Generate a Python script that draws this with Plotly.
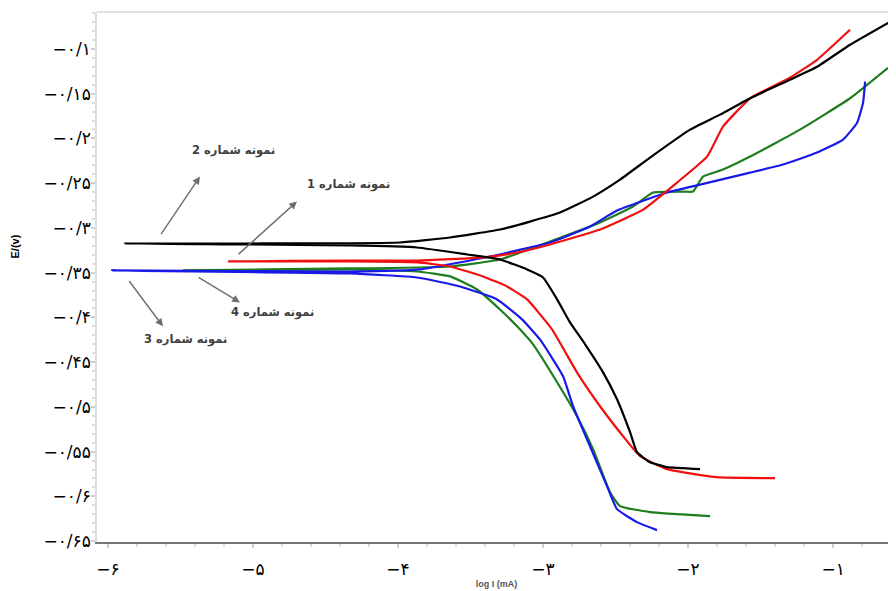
import plotly.graph_objects as go

# ---------------- data (log I in mA, E in V) ----------------
s2_x = [-1.917, -2.145, -2.262, -2.352, -2.400, -2.490, -2.586, -2.710, -2.814, -2.903,
        -3.000, -3.110, -3.297, -3.524, -3.869, -4.331, -5.021, -5.883,
        -5.021, -3.986, -3.641, -3.297, -3.090, -2.883, -2.655, -2.469, -2.262, -1.986,
        -1.779, -1.572, -1.297, -1.110, -0.883, -0.607]
s2_y = [-0.5696, -0.5674, -0.5618, -0.5507, -0.5283, -0.4915, -0.4614, -0.4301, -0.4056, -0.3799,
        -0.3554, -0.3464, -0.3353, -0.3297, -0.3219, -0.3196, -0.3185, -0.3174,
        -0.3174, -0.3163, -0.3107, -0.3018, -0.2929, -0.2828, -0.2650, -0.2460, -0.2214, -0.1902,
        -0.1734, -0.1551, -0.1344, -0.1199, -0.0953, -0.0696]

s1_x = [-1.400, -1.800, -2.145, -2.331, -2.448, -2.607, -2.766, -2.938, -3.110, -3.248,
        -3.414, -3.641, -3.869, -4.331, -5.172,
        -4.331, -3.869, -3.414, -3.179, -2.952, -2.607, -2.310, -2.076, -1.869, -1.759,
        -1.572, -1.297, -1.110, -0.883]
s1_y = [-0.5797, -0.5786, -0.5696, -0.5551, -0.5328, -0.4993, -0.4614, -0.4134, -0.3799, -0.3654,
        -0.3542, -0.3431, -0.3386, -0.3375, -0.3375,
        -0.3364, -0.3364, -0.3330, -0.3275, -0.3185, -0.3018, -0.2795, -0.2493, -0.2203, -0.1868,
        -0.1551, -0.1321, -0.1121, -0.0786]

s4_x = [-1.848, -2.262, -2.469, -2.538, -2.655, -2.766, -2.903, -3.069, -3.179, -3.297,
        -3.455, -3.641, -3.869, -4.331, -5.483,
        -4.331, -3.641, -3.297, -2.952, -2.607, -2.379, -2.241, -2.034, -1.966, -1.897,
        -1.759, -1.572, -1.228, -0.883, -0.621]
s4_y = [-0.6221, -0.6176, -0.6109, -0.5953, -0.5473, -0.5105, -0.4725, -0.4301, -0.4100, -0.3911,
        -0.3688, -0.3542, -0.3487, -0.3464, -0.3475,
        -0.3453, -0.3431, -0.3353, -0.3152, -0.2940, -0.2761, -0.2605, -0.2594, -0.2594, -0.2426,
        -0.2348, -0.2203, -0.1902, -0.1551, -0.1210]

s3_x = [-2.214, -2.352, -2.490, -2.559, -2.676, -2.793, -2.862, -3.021, -3.145, -3.317,
        -3.572, -3.869, -4.331, -5.972,
        -4.331, -3.848, -3.366, -2.952, -2.676, -2.490, -2.145, -1.917, -1.572, -1.345,
        -1.110, -0.931, -0.834, -0.793, -0.779]
s3_y = [-0.6377, -0.6288, -0.6143, -0.5886, -0.5440, -0.4993, -0.4658, -0.4246, -0.4022, -0.3799,
        -0.3654, -0.3554, -0.3509, -0.3475,
        -0.3487, -0.3464, -0.3319, -0.3163, -0.2984, -0.2806, -0.2605, -0.2516, -0.2382, -0.2292,
        -0.2158, -0.2013, -0.1824, -0.1600, -0.1366]

x_ticks = [-6, -5, -4, -3, -2, -1]
y_ticks = [-0.1, -0.15, -0.2, -0.25, -0.3, -0.35, -0.4, -0.45, -0.5, -0.55, -0.6, -0.65]

labels = ["نمونه شماره 1", "نمونه شماره 2", "نمونه شماره 3", "نمونه شماره 4"]
# label text positions and arrow (tail -> head) in data units
label_pos = [(-4.345, -0.2516), (-5.138, -0.2136), (-5.469, -0.4246), (-4.869, -0.3944)]
arrow_tail = [(-5.110, -0.3308), (-5.641, -0.3085), (-5.862, -0.3576), (-5.386, -0.3542)]
arrow_head = [(-4.697, -0.2705), (-5.366, -0.2426), (-5.621, -0.4100), (-5.090, -0.3833)]

# ---------------- helpers ----------------
FA = str.maketrans("0123456789", "۰۱۲۳۴۵۶۷۸۹")


def fa_num(v):
    s = f"{abs(v):g}".replace(".", "/").translate(FA)
    return ("−" if v < 0 else "") + s


fig = go.Figure()
series = [
    (s4_x, s4_y, "#1e7d1e"),
    (s3_x, s3_y, "#1a1ae6"),
    (s1_x, s1_y, "#f01010"),
    (s2_x, s2_y, "#000000"),
]
for xs, ys, c in series:
    fig.add_trace(go.Scatter(x=xs, y=ys, mode="lines",
                             line=dict(color=c, width=2.2, shape="spline", smoothing=0.4),
                             showlegend=False, hoverinfo="skip"))

for txt, (tx, ty), (ax_, ay_), (hx, hy) in zip(labels, label_pos, arrow_tail, arrow_head):
    fig.add_annotation(x=hx, y=hy, ax=ax_, ay=ay_, xref="x", yref="y", axref="x", ayref="y",
                       text="", showarrow=True, arrowhead=2, arrowsize=1.1, arrowwidth=1.4,
                       arrowcolor="#6e6e6e")
    fig.add_annotation(x=tx, y=ty, xref="x", yref="y", text="<b>" + txt + "</b>", showarrow=False,
                       font=dict(family="DejaVu Sans", size=11.5, color="#404040"))

# y-axis title (sits above the axis centre in the original)
fig.add_annotation(x=-0.103, y=0.557, xref="paper", yref="paper", text="<b>E/(v)</b>",
                   textangle=-90, showarrow=False, xanchor="center", yanchor="middle",
                   font=dict(size=11, family="Liberation Sans", color="black"))

fig.add_shape(type="line", xref="paper", yref="paper", x0=0, x1=1, y0=1, y1=1,
              line=dict(color="#d8d8d8", width=1.5))

# page body has an 8px default margin, so the figure is sized to fit the 896x591 window
fig.update_layout(
    width=888, height=583,
    margin=dict(l=89, r=0, t=4, b=49),
    paper_bgcolor="white", plot_bgcolor="white",
    font=dict(family="DejaVu Sans", color="black"),
    xaxis=dict(range=[-6.076, -0.566], tickvals=x_ticks,
               ticktext=[fa_num(v) for v in x_ticks],
               tickfont=dict(size=17, family="DejaVu Sans", color="black"),
               showgrid=False, zeroline=False,
               showline=True, linecolor="#777777", linewidth=2,
               ticks="outside", ticklen=4, tickcolor="#cfcfcf", tickwidth=2,
               ticklabelstandoff=7,
               minor=dict(dtick=0.2, ticks="outside", ticklen=3, tickcolor="#dddddd", tickwidth=2),
               title=dict(text="<b>log I (mA)</b>", font=dict(size=9, family="Liberation Sans", color="#555555"),
                          standoff=2)),
    yaxis=dict(range=[-0.651, -0.0587], tickvals=y_ticks,
               ticktext=[fa_num(v) for v in y_ticks],
               tickfont=dict(size=17, family="DejaVu Sans", color="black"),
               showgrid=False, zeroline=False,
               showline=True, linecolor="#dddddd", linewidth=1.5,
               ticks="outside", ticklen=4, tickcolor="#cfcfcf", tickwidth=2,
               ticklabelstandoff=-3,
               minor=dict(dtick=0.01, ticks="outside", ticklen=3, tickcolor="#dddddd", tickwidth=2)),
)

fig.write_html("out.html")
